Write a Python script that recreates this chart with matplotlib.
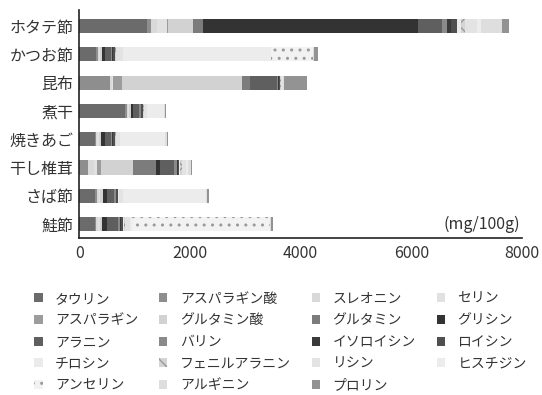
import matplotlib as mpl

mpl.use("Agg")
import matplotlib.pyplot as plt
import numpy as np
from matplotlib.patches import Patch

plt.rcParams["font.family"] = ["Noto Sans CJK JP", "DejaVu Sans"]
plt.rcParams["hatch.linewidth"] = 1.0

INK = "#333333"

foods = ["ホタテ節", "かつお節", "昆布", "煮干", "焼きあご", "干し椎茸", "さば節", "鮭節"]

amino = [
    "タウリン", "アスパラギン酸", "スレオニン", "セリン",
    "アスパラギン", "グルタミン酸", "グルタミン", "グリシン",
    "アラニン", "バリン", "イソロイシン", "ロイシン",
    "チロシン", "フェニルアラニン", "リシン", "ヒスチジン",
    "アンセリン", "アルギニン", "プロリン",
]

# mg/100g, one list per amino acid, in the order of foods
taurine = [1230, 300, 0, 830, 280, 0, 290, 280]
aspartic = [60, 40, 560, 30, 30, 160, 30, 30]
threonine = [120, 20, 30, 20, 20, 110, 30, 30]
serine = [180, 20, 30, 20, 20, 60, 30, 30]
asparagine = [20, 0, 150, 0, 0, 70, 0, 0]
glutamic = [450, 40, 2180, 40, 50, 580, 60, 50]
glutamine = [180, 0, 130, 0, 0, 400, 0, 0]
glycine = [3880, 40, 0, 40, 60, 90, 60, 80]
alanine = [430, 110, 490, 110, 120, 250, 130, 200]
valine = [90, 30, 30, 20, 20, 40, 30, 40]
isoleucine = [70, 15, 10, 15, 15, 20, 15, 20]
leucine = [120, 30, 10, 25, 25, 30, 30, 40]
tyrosine = [70, 10, 10, 10, 10, 20, 10, 15]
phenylalanine = [70, 10, 10, 10, 10, 20, 10, 15]
lysine = [220, 130, 40, 60, 80, 80, 60, 80]
histidine = [70, 2670, 10, 300, 820, 30, 1510, 50]
anserine = [0, 760, 0, 0, 0, 0, 0, 2490]
arginine = [380, 20, 20, 20, 20, 60, 20, 20]
proline = [130, 70, 400, 20, 20, 20, 35, 30]

series = [
    taurine, aspartic, threonine, serine, asparagine, glutamic, glutamine,
    glycine, alanine, valine, isoleucine, leucine, tyrosine, phenylalanine,
    lysine, histidine, anserine, arginine, proline,
]

colors = [
    "#6b6b6b", "#8e8e8e", "#d9d9d9", "#e1e1e1", "#9c9c9c", "#d2d2d2", "#7c7c7c",
    "#333333", "#5f5f5f", "#8a8a8a", "#3a3a3a", "#4f4f4f", "#ebebeb", "#d4d4d4",
    "#e3e3e3", "#ececec", "#f2f2f2", "#dedede", "#939393",
]
hatches = [None] * 19
hatches[13] = "xx"
hatches[16] = ".."

fig = plt.figure(figsize=(5.42, 3.95), dpi=100)
ax = fig.add_axes([0.146, 0.397, 0.817, 0.578])

y = np.arange(len(foods))
left = np.zeros(len(foods))
handles = []
for name, vals, col, hat in zip(amino, series, colors, hatches):
    vals = np.array(vals, dtype=float)
    ax.barh(y, vals, left=left, height=0.5, color=col, edgecolor="#9a9a9a",
            linewidth=0, hatch=hat, zorder=2)
    left += vals
    handles.append(Patch(facecolor=col, edgecolor="#9a9a9a", linewidth=0, hatch=hat, label=name))

ax.set_ylim(len(foods) - 0.5, -0.57)
ax.set_xlim(0, 8000)
ax.set_xticks([0, 2000, 4000, 6000, 8000])
ax.set_xticklabels(["0", "2000", "4000", "6000", "8000"])
ax.set_yticks(y)
ax.set_yticklabels(foods)
ax.tick_params(length=0, labelsize=11.5, colors=INK, pad=4)
ax.tick_params(axis="x", pad=5)
for name, spine in ax.spines.items():
    spine.set_visible(name in ("left", "bottom"))
    spine.set_color("#222222")
    spine.set_linewidth(1.2)

ax.text(0.995, 0.06, "(mg/100g)", transform=ax.transAxes, ha="right", va="center",
        fontsize=11.5, color=INK)

# row-major legend order like the original
order = []
for c in range(4):
    order += list(range(c, len(handles), 4))
fig.legend([handles[i] for i in order], [amino[i] for i in order],
           loc="upper left", bbox_to_anchor=(0.04, 0.293), ncol=4, frameon=False,
           fontsize=10, handlelength=0.6, handleheight=0.6, handletextpad=0.9,
           columnspacing=1.5, labelspacing=0.55, labelcolor=INK)

fig.savefig("out.png", dpi=100, facecolor="white")
